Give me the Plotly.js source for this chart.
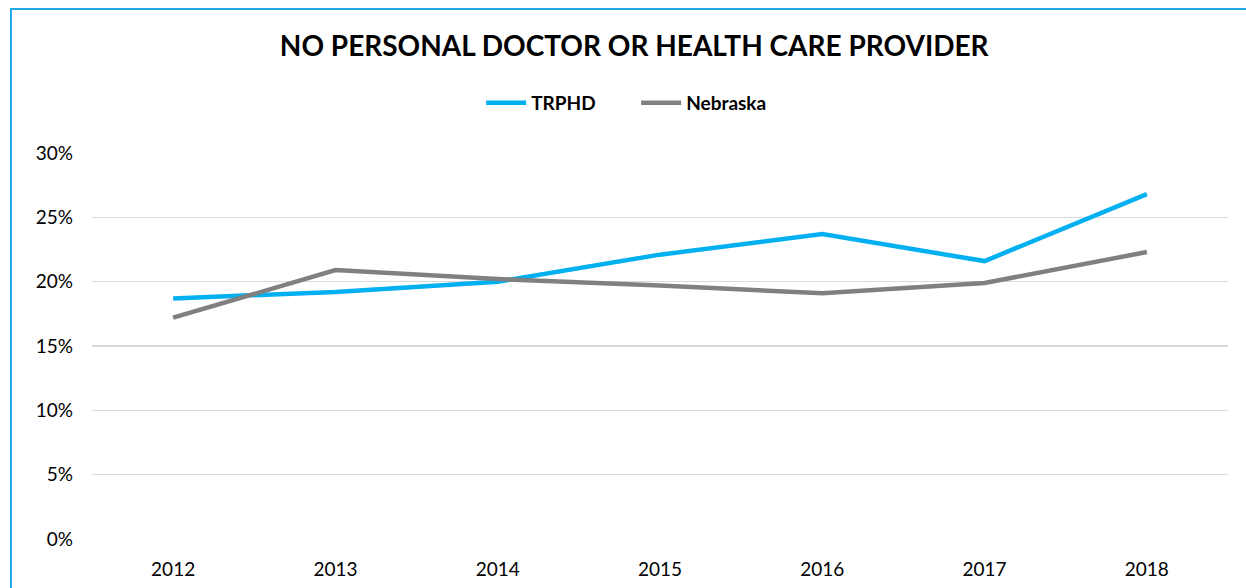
<!DOCTYPE html>
<html>
<head>
<meta charset="utf-8">
<script src="https://cdn.plot.ly/plotly-3.0.1.min.js"></script>
<style>
  html, body { margin: 0; padding: 0; background: #fff; }
  #wrap { position: relative; width: 1246px; height: 588px; overflow: hidden; }
  #frame { position: absolute; left: 10px; top: 8px; width: 1300px; height: 700px;
           border-left: 2px solid #22a9e1; border-top: 2px solid #22a9e1; pointer-events: none; }
  #chart { position: absolute; left: 0; top: 0; width: 1246px; height: 588px; }
</style>
</head>
<body>
<div id="wrap">
  <div id="chart"></div>
  <div id="frame"></div>
</div>
<script>
const years = ["2012", "2013", "2014", "2015", "2016", "2017", "2018"];
const trphd = [0.187, 0.192, 0.200, 0.221, 0.237, 0.216, 0.268];
const nebraska = [0.172, 0.209, 0.202, 0.197, 0.191, 0.199, 0.223];
const yTicks = [0, 0.05, 0.10, 0.15, 0.20, 0.25, 0.30];
const yTickText = ["0%", "5%", "10%", "15%", "20%", "25%", "30%"];

const FONT = "Lato, 'Open Sans', 'DejaVu Sans', sans-serif";

const traces = [
  { x: years, y: trphd, name: "TRPHD", type: "scatter", mode: "lines",
    line: { color: "#00B0F0", width: 4.5 } },
  { x: years, y: nebraska, name: "Nebraska", type: "scatter", mode: "lines",
    line: { color: "#808080", width: 4.5 } }
];

const layout = {
  width: 1246, height: 588,
  margin: { l: 92, r: 18, t: 153, b: 49 },
  paper_bgcolor: "rgba(0,0,0,0)", plot_bgcolor: "#fff",
  font: { family: FONT, color: "#000", size: 19 },
  title: { text: "<b>NO PERSONAL DOCTOR OR HEALTH CARE PROVIDER</b>",
           x: 0.509, xanchor: "center", y: 0.921, yanchor: "middle",
           font: { family: FONT, size: 28, color: "#000" } },
  showlegend: true,
  legend: { orientation: "h", x: 0.479, xanchor: "center", y: 1.13, yanchor: "middle",
            font: { family: FONT, size: 19, color: "#000", weight: "bold" },
            itemwidth: 40, entrywidth: 100, entrywidthmode: "pixels", traceorder: "normal" },
  xaxis: { type: "category", range: [-0.5, 6.5], showgrid: false, zeroline: false, showline: false,
           ticks: "", tickfont: { size: 19, color: "#000" }, ticklabelstandoff: 17 },
  yaxis: { range: [0, 0.30], tickvals: yTicks, ticktext: yTickText,
           showgrid: true, gridcolor: "#d9d9d9", gridwidth: 1.5,
           zeroline: false, showline: false, ticks: "",
           tickfont: { size: 19, color: "#000" }, ticklabelstandoff: 18 }
};

Plotly.newPlot("chart", traces, layout, { displayModeBar: false, staticPlot: true });
</script>
</body>
</html>
